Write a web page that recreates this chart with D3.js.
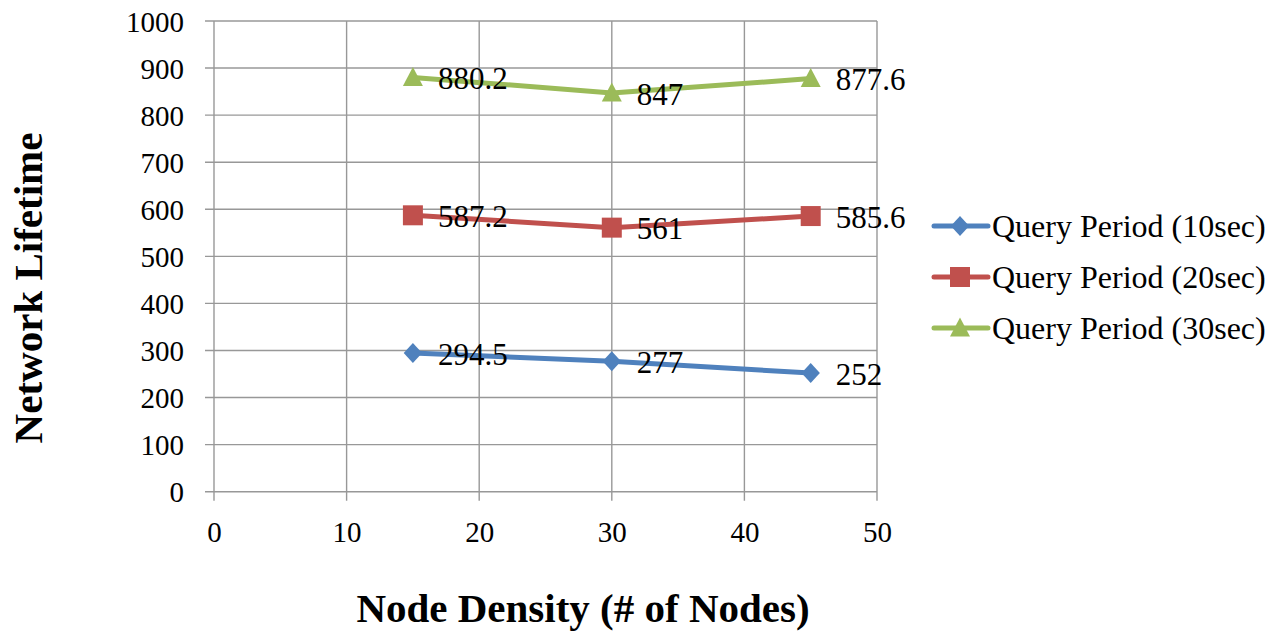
<!DOCTYPE html>
<html>
<head>
<meta charset="utf-8">
<script src="https://cdn.jsdelivr.net/npm/d3@7"></script>
<style>
  html, body { margin: 0; padding: 0; background: #fff; }
  svg { display: block; font-family: "Liberation Serif", "Times New Roman", serif; }
</style>
</head>
<body>
<svg id="chart" width="1282" height="632"></svg>
<script>
// Node density on the x axis
const nodeDensity = [15, 30, 45];

// Network lifetime for each query period
const seriesNames = ["Query Period (10sec)", "Query Period (20sec)", "Query Period (30sec)"];
const lifetime10 = [294.5, 277, 252];
const lifetime20 = [587.2, 561, 585.6];
const lifetime30 = [880.2, 847, 877.6];

const xTicks = [0, 10, 20, 30, 40, 50];
const yTicks = [0, 100, 200, 300, 400, 500, 600, 700, 800, 900, 1000];

const colors = ["#4F81BD", "#C0504D", "#9BBB59"];

// Marker shapes: diamond, square, triangle (sizes in px)
const diamond = { draw(ctx, r) { ctx.moveTo(0, -r); ctx.lineTo(r * 0.92, 0); ctx.lineTo(0, r); ctx.lineTo(-r * 0.92, 0); ctx.closePath(); } };
const square = { draw(ctx, r) { ctx.rect(-r, -r, 2 * r, 2 * r); } };
const triangle = { draw(ctx, r) { ctx.moveTo(0, -r * 1.05); ctx.lineTo(r, r * 0.85); ctx.lineTo(-r, r * 0.85); ctx.closePath(); } };
const symbols = [diamond, square, triangle];
const symbolRadii = [10, 10, 10];

const series = [lifetime10, lifetime20, lifetime30].map((vals, i) => ({
  name: seriesNames[i],
  color: colors[i],
  symbol: symbols[i],
  r: symbolRadii[i],
  points: vals.map((v, j) => ({ x: nodeDensity[j], y: v }))
}));

const marker = s => d3.symbol(s.symbol, s.r);

const svg = d3.select("#chart");
const x = d3.scaleLinear().domain([0, 50]).range([214, 877]);
const y = d3.scaleLinear().domain([0, 1000]).range([491.7, 21]);

const gridColor = "#989898";
const serif = "Liberation Serif, Times New Roman, serif";

// Gridlines with short outer ticks
const grid = svg.append("g");
grid.selectAll("line.h").data(yTicks).join("line")
  .attr("x1", x(0) - 9).attr("x2", x(50))
  .attr("y1", d => y(d)).attr("y2", d => y(d))
  .attr("stroke", gridColor).attr("stroke-width", 1.4);
grid.selectAll("line.v").data(xTicks).join("line")
  .attr("x1", d => x(d)).attr("x2", d => x(d))
  .attr("y1", y(1000)).attr("y2", y(0) + 9)
  .attr("stroke", gridColor).attr("stroke-width", 1.4);

// Y axis labels
const yAxis = d3.axisLeft(y).tickValues(yTicks).tickFormat(d3.format("d")).tickSize(0).tickPadding(30);
const gy = svg.append("g").attr("transform", `translate(${x(0)},0)`).call(yAxis);
gy.select(".domain").remove();
gy.selectAll("text").attr("font-size", 29).attr("fill", "#000")
  .attr("font-family", serif).attr("dy", "0.35em");

// X axis labels
const xAxis = d3.axisBottom(x).tickValues(xTicks).tickFormat(d3.format("d")).tickSize(0).tickPadding(0);
const gx = svg.append("g").attr("transform", `translate(0,${y(0)})`).call(xAxis);
gx.select(".domain").remove();
gx.selectAll("text").attr("font-size", 29).attr("fill", "#000")
  .attr("font-family", serif).attr("y", 50).attr("dy", 0);

// Axis titles
svg.append("text")
  .attr("transform", "translate(42,288) rotate(-90)")
  .attr("text-anchor", "middle")
  .attr("font-size", 41).attr("font-weight", "bold")
  .text("Network Lifetime");
svg.append("text")
  .attr("x", 583).attr("y", 622)
  .attr("text-anchor", "middle")
  .attr("font-size", 41).attr("font-weight", "bold")
  .text("Node Density (# of Nodes)");

// Series lines, markers and value labels
const line = d3.line().x(d => x(d.x)).y(d => y(d.y));
series.forEach(s => {
  const g = svg.append("g");
  g.append("path").datum(s.points)
    .attr("d", line).attr("fill", "none")
    .attr("stroke", s.color).attr("stroke-width", 5).attr("stroke-linejoin", "round");
  g.selectAll("path.m").data(s.points).join("path")
    .attr("class", "m")
    .attr("transform", d => `translate(${x(d.x)},${y(d.y)})`)
    .attr("d", marker(s))
    .attr("fill", s.color);
  g.selectAll("text").data(s.points).join("text")
    .attr("x", d => x(d.x) + 25).attr("y", d => y(d.y) + 1)
    .attr("dy", "0.35em")
    .attr("font-size", 31).attr("fill", "#000")
    .text(d => d3.format("")(d.y));
});

// Legend
const legend = svg.append("g");
series.forEach((s, i) => {
  const ly = 226 + i * 51;
  legend.append("line")
    .attr("x1", 934).attr("x2", 988).attr("y1", ly).attr("y2", ly)
    .attr("stroke", s.color).attr("stroke-width", 5).attr("stroke-linecap", "round");
  legend.append("path")
    .attr("transform", `translate(960,${ly})`)
    .attr("d", marker(s))
    .attr("fill", s.color);
  legend.append("text")
    .attr("x", 992).attr("y", ly).attr("dy", "0.35em")
    .attr("font-size", 32).attr("fill", "#000")
    .text(s.name);
});
</script>
</body>
</html>
